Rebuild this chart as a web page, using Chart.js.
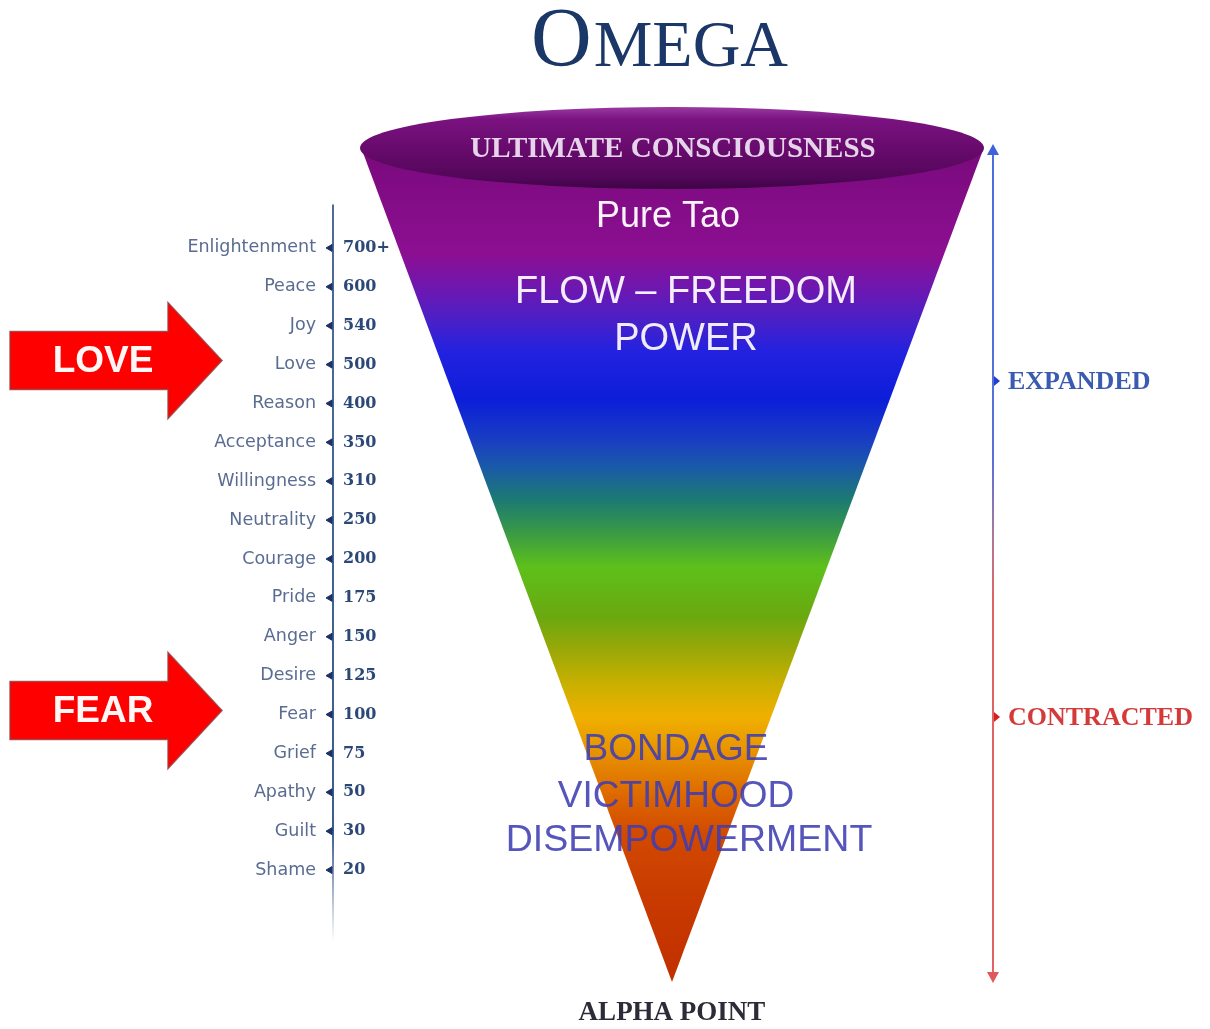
<!DOCTYPE html>
<html>
<head>
<meta charset="utf-8">
<script src="https://cdn.jsdelivr.net/npm/chart.js@4/dist/chart.umd.min.js"></script>
<style>
  html, body { margin: 0; padding: 0; background: #fff; }
  canvas { display: block; }
</style>
</head>
<body>
<canvas id="chart" width="1210" height="1029"></canvas>
<script>
// levels of consciousness, top to bottom
const levelNames = [`Enlightenment`, `Peace`, `Joy`, `Love`, `Reason`, `Acceptance`, `Willingness`, `Neutrality`,
  `Courage`, `Pride`, `Anger`, `Desire`, `Fear`, `Grief`, `Apathy`, `Guilt`, `Shame`]
const levelValues = [`700+`, `600`, `540`, `500`, `400`, `350`, `310`, `250`,
  `200`, `175`, `150`, `125`, `100`, `75`, `50`, `30`, `20`]

// big red arrows on the left, pointing at a level
const markerLabels = [`LOVE`, `FEAR`]
const markerLevels = [`Love`, `Fear`]

// texts inside the cone
const upperBands = [`Pure Tao`, `FLOW – FREEDOM`, `POWER`]
const lowerBands = [`BONDAGE`, `VICTIMHOOD`, `DISEMPOWERMENT`]
const sideLabels = [`EXPANDED`, `CONTRACTED`]

const COLORS = {
  title: `#1b3767`,
  names: `#5a6c91`,
  values: `#2c4877`,
  axis: `#3d5b8c`,
  red: `#ff0000`,
  blue: `#4a6ad8`,
  lowerText: `rgba(62,62,178,0.88)`
}

const text = (ctx, str, x, y, font, color, align = `center`) => {
  ctx.font = font
  ctx.fillStyle = color
  ctx.textAlign = align
  ctx.textBaseline = `middle`
  ctx.fillText(str, x, y)
}

const drawArrow = (ctx, label, cy) => {
  ctx.save()
  ctx.beginPath()
  ctx.moveTo(10, cy - 29)
  ctx.lineTo(168, cy - 29)
  ctx.lineTo(168, cy - 58)
  ctx.lineTo(222, cy)
  ctx.lineTo(168, cy + 58)
  ctx.lineTo(168, cy + 29)
  ctx.lineTo(10, cy + 29)
  ctx.closePath()
  ctx.fillStyle = COLORS.red
  ctx.fill()
  ctx.strokeStyle = `rgba(150,60,60,0.8)`
  ctx.lineWidth = 1.5
  ctx.stroke()
  ctx.restore()
  text(ctx, label, 103, cy + 1, `bold 37px "Liberation Sans", Arial, sans-serif`, `#fff6f6`)
}

const decor = {
  id: `decor`,
  beforeDraw(chart) {
    const { ctx } = chart
    const xs = chart.scales.x
    const ys = chart.scales.y
    ctx.save()
    ctx.fillStyle = `#fff`
    ctx.fillRect(0, 0, chart.width, chart.height)

    // title
    ctx.textBaseline = `alphabetic`
    ctx.fillStyle = COLORS.title
    ctx.textAlign = `left`
    ctx.font = `84px "Liberation Serif", "Times New Roman", serif`
    ctx.fillText(`O`, 531, 66)
    const ow = ctx.measureText(`O`).width
    ctx.font = `66px "Liberation Serif", "Times New Roman", serif`
    ctx.fillText(`MEGA`, 531 + ow + 2, 66)

    // cone
    const topY = 150, apexY = 982, cx = 672
    const g = ctx.createLinearGradient(0, topY, 0, apexY)
    const stops = [
      [150, `#7a0a7c`], [255, `#8c0f92`], [290, `#6c18b2`], [322, `#4820c8`], [352, `#2222e0`],
      [400, `#0c1ed8`], [443, `#1a40c0`], [467, `#1a5aa8`], [500, `#1c7a72`], [533, `#3a9a45`],
      [567, `#5ec01a`], [617, `#6aa810`], [650, `#9aa808`], [683, `#c8b000`], [717, `#f0b000`],
      [750, `#e89400`], [800, `#dc6400`], [833, `#d24a00`], [900, `#c83a00`], [982, `#c03000`]
    ]
    stops.forEach(([y, c]) => g.addColorStop((y - topY) / (apexY - topY), c))
    ctx.beginPath()
    ctx.moveTo(362, topY)
    ctx.lineTo(983, topY)
    ctx.lineTo(cx, apexY)
    ctx.closePath()
    ctx.fillStyle = g
    ctx.fill()

    // top ellipse
    const eg = ctx.createLinearGradient(0, 107, 0, 190)
    eg.addColorStop(0, `#9a3aa2`)
    eg.addColorStop(0.15, `#7a1280`)
    eg.addColorStop(0.55, `#650a6a`)
    eg.addColorStop(0.85, `#52075a`)
    eg.addColorStop(1, `#3c0442`)
    ctx.beginPath()
    ctx.ellipse(cx, 148, 312, 41, 0, 0, Math.PI * 2)
    ctx.fillStyle = eg
    ctx.fill()
    text(ctx, `ULTIMATE CONSCIOUSNESS`, 673, 150, `bold 29px "Liberation Serif", "Times New Roman", serif`, `#e6d4ea`)

    // cone texts
    const upperFont = size => `${size}px "Liberation Sans", Arial, sans-serif`
    text(ctx, upperBands[0], 668, 217, upperFont(36), `#fbf4fb`)
    text(ctx, upperBands[1], 686, 293, upperFont(38), `#f4eefc`)
    text(ctx, upperBands[2], 686, 340, upperFont(38), `#f0ecfc`)
    text(ctx, lowerBands[0], 676, 750, upperFont(37), COLORS.lowerText)
    text(ctx, lowerBands[1], 676, 797, upperFont(37), COLORS.lowerText)
    text(ctx, lowerBands[2], 689, 841, upperFont(37.5), COLORS.lowerText)

    text(ctx, `ALPHA POINT`, 672, 1013, `bold 27px "Liberation Serif", "Times New Roman", serif`, `#2c2c38`)

    // expanded / contracted line
    const lx = 993
    const lg = ctx.createLinearGradient(0, 147, 0, 980)
    lg.addColorStop(0, `#4a6ee0`)
    lg.addColorStop(0.38, `#5a70d8`)
    lg.addColorStop(0.47, `#b07898`)
    lg.addColorStop(0.54, `#e06464`)
    lg.addColorStop(1, `#e06464`)
    ctx.strokeStyle = lg
    ctx.lineWidth = 2
    ctx.beginPath()
    ctx.moveTo(lx, 150)
    ctx.lineTo(lx, 977)
    ctx.stroke()
    ctx.fillStyle = `#3f62dc`
    ctx.beginPath()
    ctx.moveTo(lx, 144); ctx.lineTo(lx - 6, 155); ctx.lineTo(lx + 6, 155); ctx.closePath(); ctx.fill()
    ctx.fillStyle = `#e05858`
    ctx.beginPath()
    ctx.moveTo(lx, 983); ctx.lineTo(lx - 6, 972); ctx.lineTo(lx + 6, 972); ctx.closePath(); ctx.fill()
    const sideY = [381, 717]
    const sideCol = [`#3a5bb0`, `#d43a3a`]
    sideLabels.forEach((lab, i) => {
      ctx.fillStyle = i ? `#d42020` : `#2040d0`
      ctx.beginPath()
      ctx.moveTo(lx + 7, sideY[i]); ctx.lineTo(lx + 1, sideY[i] - 5); ctx.lineTo(lx + 1, sideY[i] + 5); ctx.closePath(); ctx.fill()
      text(ctx, lab, 1008, sideY[i] + 1, `bold 26px "Liberation Serif", "Times New Roman", serif`, sideCol[i], `left`)
    })

    // level axis line
    const ax = xs.getPixelForValue(0) + 3
    const ag = ctx.createLinearGradient(0, ys.top - 24, 0, ys.bottom + 52)
    ag.addColorStop(0, `rgba(61,91,140,0.9)`)
    ag.addColorStop(0.85, `rgba(61,91,140,1)`)
    ag.addColorStop(1, `rgba(61,91,140,0)`)
    ctx.strokeStyle = ag
    ctx.lineWidth = 2
    ctx.beginPath()
    ctx.moveTo(ax, ys.top - 24)
    ctx.lineTo(ax, ys.bottom + 52)
    ctx.stroke()

    // red arrows
    markerLabels.forEach((lab, i) => {
      drawArrow(ctx, lab, ys.getPixelForValue(levelNames.indexOf(markerLevels[i])) - 4)
    })
    ctx.restore()
  }
}

const main = () => {
  const el = document.getElementById(`chart`).getContext(`2d`)
  new Chart(el, {
    type: `scatter`,
    data: {
      datasets: [{
        data: levelNames.map(name => ({ x: 0, y: name })),
        pointStyle: `triangle`,
        rotation: -90,
        radius: 4,
        backgroundColor: `#1a3366`,
        borderColor: `#1a3366`,
        borderWidth: 1
      }]
    },
    options: {
      responsive: false,
      devicePixelRatio: 1,
      animation: false,
      layout: { padding: { top: 228.5, bottom: 139.5, left: 0, right: 0 } },
      plugins: { legend: { display: false }, tooltip: { enabled: false } },
      scales: {
        x: { type: `linear`, display: false, min: -1, max: 1 },
        y: {
          type: `category`,
          labels: levelNames,
          position: `left`,
          offset: true,
          grid: { display: false, drawTicks: false },
          border: { display: false },
          ticks: {
            autoSkip: false,
            padding: 4,
            color: COLORS.names,
            font: { family: `"DejaVu Sans", sans-serif`, size: 17.5 }
          },
          afterFit: scale => { scale.width = 320 }
        },
        y2: {
          type: `category`,
          labels: levelValues,
          position: `right`,
          offset: true,
          grid: { display: false, drawTicks: false },
          border: { display: false },
          ticks: {
            autoSkip: false,
            padding: 3,
            color: COLORS.values,
            font: { family: `"DejaVu Serif", serif`, size: 16, weight: `bold` }
          },
          afterFit: scale => { scale.width = 1210 - 340 }
        }
      }
    },
    plugins: [decor]
  })
}

main()
</script>
</body>
</html>
